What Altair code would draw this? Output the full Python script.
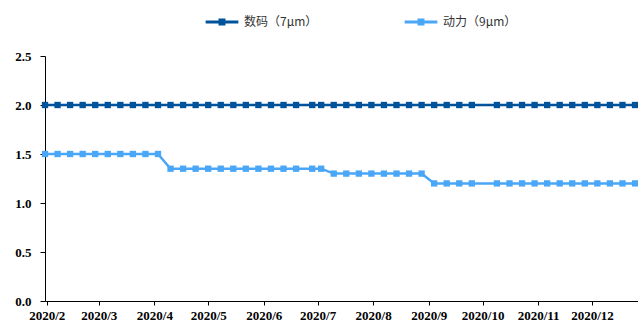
import altair as alt
import pandas as pd

# Weekly quotes, 2020 (a holiday week is shifted or skipped)
dates = [
    "2020-01-31", "2020-02-07", "2020-02-14", "2020-02-21", "2020-02-28",
    "2020-03-06", "2020-03-13", "2020-03-20", "2020-03-27", "2020-04-03",
    "2020-04-10", "2020-04-17", "2020-04-24", "2020-05-01", "2020-05-08",
    "2020-05-15", "2020-05-22", "2020-05-29", "2020-06-05", "2020-06-12",
    "2020-06-19", "2020-06-28", "2020-07-03", "2020-07-10", "2020-07-17",
    "2020-07-24", "2020-07-31", "2020-08-07", "2020-08-14", "2020-08-21",
    "2020-08-28", "2020-09-04", "2020-09-11", "2020-09-18", "2020-09-25",
    "2020-10-09", "2020-10-16", "2020-10-23", "2020-10-30", "2020-11-06",
    "2020-11-13", "2020-11-20", "2020-11-27", "2020-12-04", "2020-12-11",
    "2020-12-18", "2020-12-25",
]

digital_7um = [
    2.0, 2.0, 2.0, 2.0, 2.0, 2.0, 2.0, 2.0, 2.0, 2.0,
    2.0, 2.0, 2.0, 2.0, 2.0, 2.0, 2.0, 2.0, 2.0, 2.0,
    2.0, 2.0, 2.0, 2.0, 2.0, 2.0, 2.0, 2.0, 2.0, 2.0,
    2.0, 2.0, 2.0, 2.0, 2.0, 2.0, 2.0, 2.0, 2.0, 2.0,
    2.0, 2.0, 2.0, 2.0, 2.0, 2.0, 2.0,
]

power_9um = [
    1.5, 1.5, 1.5, 1.5, 1.5, 1.5, 1.5, 1.5, 1.5, 1.5,
    1.35, 1.35, 1.35, 1.35, 1.35, 1.35, 1.35, 1.35, 1.35, 1.35,
    1.35, 1.35, 1.35, 1.3, 1.3, 1.3, 1.3, 1.3, 1.3, 1.3,
    1.3, 1.2, 1.2, 1.2, 1.2, 1.2, 1.2, 1.2, 1.2, 1.2,
    1.2, 1.2, 1.2, 1.2, 1.2, 1.2, 1.2,
]

series_names = ["数码（7μm）", "动力（9μm）"]
series_colors = ["#00529B", "#4AA6F6"]

y_ticks = [0.0, 0.5, 1.0, 1.5, 2.0, 2.5]
month_ticks = [2, 3, 4, 5, 6, 7, 8, 9, 10, 11, 12]

rows = []
for d, a, b in zip(dates, digital_7um, power_9um):
    rows.append({"date": d, "series": series_names[0], "value": a})
    rows.append({"date": d, "series": series_names[1], "value": b})
df = pd.DataFrame(rows)

x_domain = [
    alt.DateTime(year=2020, month=1, date=31, utc=True),
    alt.DateTime(year=2020, month=12, date=26, hours=16, utc=True),
]
x_values = [alt.DateTime(year=2020, month=m, date=1, utc=True) for m in month_ticks]

# legend glyph: a short stroke with a small square in the middle
legend_path = "M-1,0H1M-0.12,-0.12H0.12V0.12H-0.12Z"

chart = (
    alt.Chart(df)
    .mark_line(
        strokeWidth=2.5,
        point=alt.OverlayMarkDef(shape="square", size=40, filled=True, opacity=1),
    )
    .encode(
        x=alt.X(
            "date:T",
            scale=alt.Scale(type="utc", domain=x_domain),
            axis=alt.Axis(
                title=None,
                values=x_values,
                labelExpr="utcFormat(datum.value, '%Y') + '/' + (utcmonth(datum.value) + 1)",
                tickSize=4,
                labelPadding=4,
                labelOverlap=False,
            ),
        ),
        y=alt.Y(
            "value:Q",
            scale=alt.Scale(domain=[0, 2.5], nice=False, zero=True),
            axis=alt.Axis(
                title=None,
                values=y_ticks,
                format=".1f",
                tickSize=5,
                labelPadding=9,
            ),
        ),
        color=alt.Color(
            "series:N",
            scale=alt.Scale(domain=series_names, range=series_colors),
            sort=series_names,
            legend=alt.Legend(
                title=None,
                orient="none",
                direction="horizontal",
                legendX=159,
                legendY=-52,
                symbolType=legend_path,
                symbolSize=1070,
                symbolStrokeWidth=3,
                labelFont="Noto Sans CJK SC",
                labelFontSize=12,
                labelColor="#333333",
                labelOffset=4,
                columnPadding=80,
            ),
        ),
    )
    .properties(
        width=593,
        height=245,
        autosize=alt.AutoSizeParams(type="none"),
        padding={"left": 45, "top": 56, "right": 0, "bottom": 23},
    )
    .configure_view(stroke=None)
    .configure_axis(
        grid=False,
        domainColor="#000000",
        domainWidth=1,
        tickColor="#000000",
        tickWidth=1,
        labelFont="Times New Roman",
        labelFontWeight="bold",
        labelFontSize=13,
        labelColor="#000000",
    )
)

chart.save("out.html", embed_options={"renderer": "svg", "actions": False})
